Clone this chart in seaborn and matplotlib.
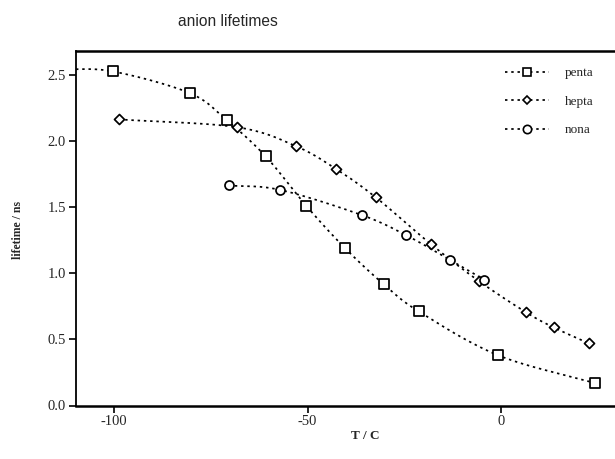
import numpy as np
import pandas as pd
import matplotlib
matplotlib.use("Agg")
import matplotlib.pyplot as plt
from matplotlib.lines import Line2D
import seaborn as sns

# ---- data ----
penta_T = [-100.2, -80.4, -70.9, -60.8, -50.3, -40.3, -30.4, -21.3, -0.9, 24.2]
penta_tau = [2.53, 2.366, 2.161, 1.886, 1.51, 1.19, 0.919, 0.712, 0.381, 0.169]
# smooth fit of penta continues to the left beyond the first point
penta_fit_head_T = [-113.0]
penta_fit_head_tau = [2.548]

hepta_T = [-98.7, -68.3, -53.0, -42.6, -32.4, -18.2, -5.9, 6.4, 13.5, 22.6]
hepta_tau = [2.167, 2.108, 1.964, 1.79, 1.576, 1.222, 0.944, 0.705, 0.591, 0.47]

nona_T = [-70.4, -57.1, -36.0, -24.6, -13.3, -4.4]
nona_tau = [1.667, 1.633, 1.442, 1.29, 1.103, 0.952]

series_names = ["penta", "hepta", "nona"]
x_ticks = [-100, -50, 0]
y_ticks = [0.0, 0.5, 1.0, 1.5, 2.0, 2.5]


def catmull_rom(xs, ys, n=30):
    p = np.column_stack([xs, ys]).astype(float)
    p = np.vstack([2 * p[0] - p[1], p, 2 * p[-1] - p[-2]])
    out = []
    for i in range(1, len(p) - 2):
        p0, p1, p2, p3 = p[i - 1], p[i], p[i + 1], p[i + 2]
        t = np.linspace(0, 1, n, endpoint=(i == len(p) - 3))[:, None]
        seg = 0.5 * ((2 * p1) + (-p0 + p2) * t + (2 * p0 - 5 * p1 + 4 * p2 - p3) * t ** 2
                     + (-p0 + 3 * p1 - 3 * p2 + p3) * t ** 3)
        out.append(seg)
    out = np.vstack(out)
    return out[:, 0], out[:, 1]


curve_frames = []
pts = {
    "penta": (penta_fit_head_T + penta_T, penta_fit_head_tau + penta_tau),
    "hepta": (hepta_T, hepta_tau),
    "nona": (nona_T, nona_tau),
}
for name in series_names:
    cx, cy = catmull_rom(*pts[name])
    curve_frames.append(pd.DataFrame({"T": cx, "tau": cy, "series": name,
                                      "order": np.arange(len(cx))}))
curves = pd.concat(curve_frames, ignore_index=True)

points = pd.concat([
    pd.DataFrame({"T": penta_T, "tau": penta_tau, "series": "penta"}),
    pd.DataFrame({"T": hepta_T, "tau": hepta_tau, "series": "hepta"}),
    pd.DataFrame({"T": nona_T, "tau": nona_tau, "series": "nona"}),
], ignore_index=True)

sns.set_theme(style="white")
plt.rcParams["font.family"] = ["Liberation Serif", "DejaVu Serif"]

fig = plt.figure(figsize=(6.15, 4.59), dpi=100)
ax = fig.add_axes([75.5 / 615, (459 - 405.5) / 459, (615 - 75.5) / 615, (405.5 - 51) / 459])

dash = (1.4, 2.2)
lw = 1.25
for name in series_names:
    sub = curves[curves["series"] == name]
    sns.lineplot(data=sub, x="T", y="tau", sort=False, estimator=None, ax=ax,
                 color="black", linewidth=lw, dashes=False, legend=False)
for line in ax.get_lines():
    line.set_dashes(dash)

marker_map = {"penta": "s", "hepta": "D", "nona": "o"}
size_map = {"penta": 42, "hepta": 26, "nona": 42}
for name in series_names:
    sub = points[points["series"] == name]
    sns.scatterplot(data=sub, x="T", y="tau", marker=marker_map[name], s=size_map[name],
                    facecolor="white", edgecolor="black", linewidth=1.25, ax=ax,
                    legend=False, zorder=3)

ax.set_xlim(-109.9, 29.3)
ax.set_ylim(0, 2.685)
ax.set_xticks(x_ticks)
ax.set_xticklabels([str(v) for v in x_ticks])
ax.set_yticks(y_ticks)
ax.set_yticklabels([f"{v:.1f}" for v in y_ticks])
ax.tick_params(axis="both", direction="out", length=5, width=1.2, color="black",
               labelsize=10.5, pad=2, left=True, bottom=True)
for s in ["left", "bottom", "top"]:
    ax.spines[s].set_visible(True)
    ax.spines[s].set_color("black")
ax.spines["left"].set_linewidth(1.3)
ax.spines["bottom"].set_linewidth(1.8)
ax.spines["top"].set_linewidth(1.8)
ax.spines["right"].set_visible(False)

ax.set_xlabel("T / C", fontsize=9.5, fontweight="bold")
ax.xaxis.set_label_coords((365 - 75.5) / 539.5, (405.5 - 430) / 354.5)
ax.set_ylabel("lifetime / ns", fontsize=8.5, fontweight="bold")
ax.yaxis.set_label_coords((24 - 75.5) / 539.5, (405.5 - 230) / 354.5)

fig.text(178 / 615, 1 - 22 / 459, "anion lifetimes", ha="left", va="center",
         fontsize=11.2, family=["Liberation Sans", "DejaVu Sans"])

handles = []
for name in series_names:
    h = Line2D([0], [0], color="black", linewidth=lw, marker=marker_map[name],
               markersize=6 if name != "hepta" else 4.5, markerfacecolor="white",
               markeredgecolor="black", markeredgewidth=1.2)
    h.set_dashes(dash)
    handles.append(h)
leg = ax.legend(handles, series_names, loc="upper left",
                bbox_to_anchor=(505 / 615, 1 - 67 / 459), bbox_transform=fig.transFigure,
                frameon=False, fontsize=9.5, handlelength=3.3, handletextpad=1.25,
                labelspacing=1.24, borderaxespad=0, borderpad=0)

fig.savefig("out.png", dpi=100)
